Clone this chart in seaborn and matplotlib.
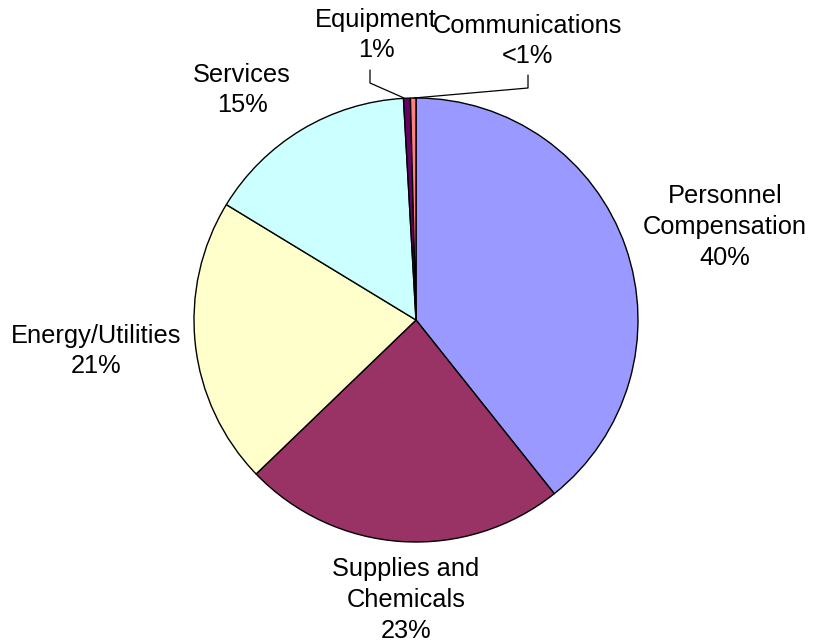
import matplotlib
matplotlib.use("Agg")
import matplotlib.pyplot as plt
import seaborn as sns

categories = ["Personnel\nCompensation", "Supplies and\nChemicals", "Energy/Utilities",
              "Services", "Equipment", "Communications"]
shares = [39.3, 23.5, 20.9, 15.4, 0.5, 0.4]
pct_labels = ["40%", "23%", "21%", "15%", "1%", "<1%"]
colors = ["#9999FF", "#993366", "#FFFFCC", "#CCFFFF", "#660066", "#FF8080"]

sns.set_theme(style="white")
plt.rcParams["font.family"] = ["Liberation Sans", "DejaVu Sans"]

W, H = 813, 642
fig = plt.figure(figsize=(W / 100, H / 100), dpi=100)
ax = fig.add_axes([0, 0, 1, 1])

cx, cy, r = 416, H - 320, 222
ax.pie(shares, colors=colors, startangle=90, counterclock=False,
       center=(cx, cy), radius=r, frame=True,
       wedgeprops=dict(edgecolor="black", linewidth=1.0))
ax.set_xlim(0, W)
ax.set_ylim(0, H)
ax.set_aspect("equal")
ax.axis("off")

# label block centres (x, y from top)
label_pos = [(725, 227), (406, 600), (96, 351), (242, 90), (376, 35), (527, 41)]
for name, pct, (lx, ly) in zip(categories, pct_labels, label_pos):
    ax.text(lx, H - ly, f"{name}\n{pct}", ha="center", va="center",
            fontsize=18.3, linespacing=1.36, color="black")

# leader lines for the two thin slices
ax.plot([370, 370, 404], [H - 70, H - 83, H - 98], color="black", lw=0.9)
ax.plot([528, 528, 414], [H - 75, H - 88, H - 98], color="black", lw=0.9)

fig.savefig("out.png", dpi=100)
